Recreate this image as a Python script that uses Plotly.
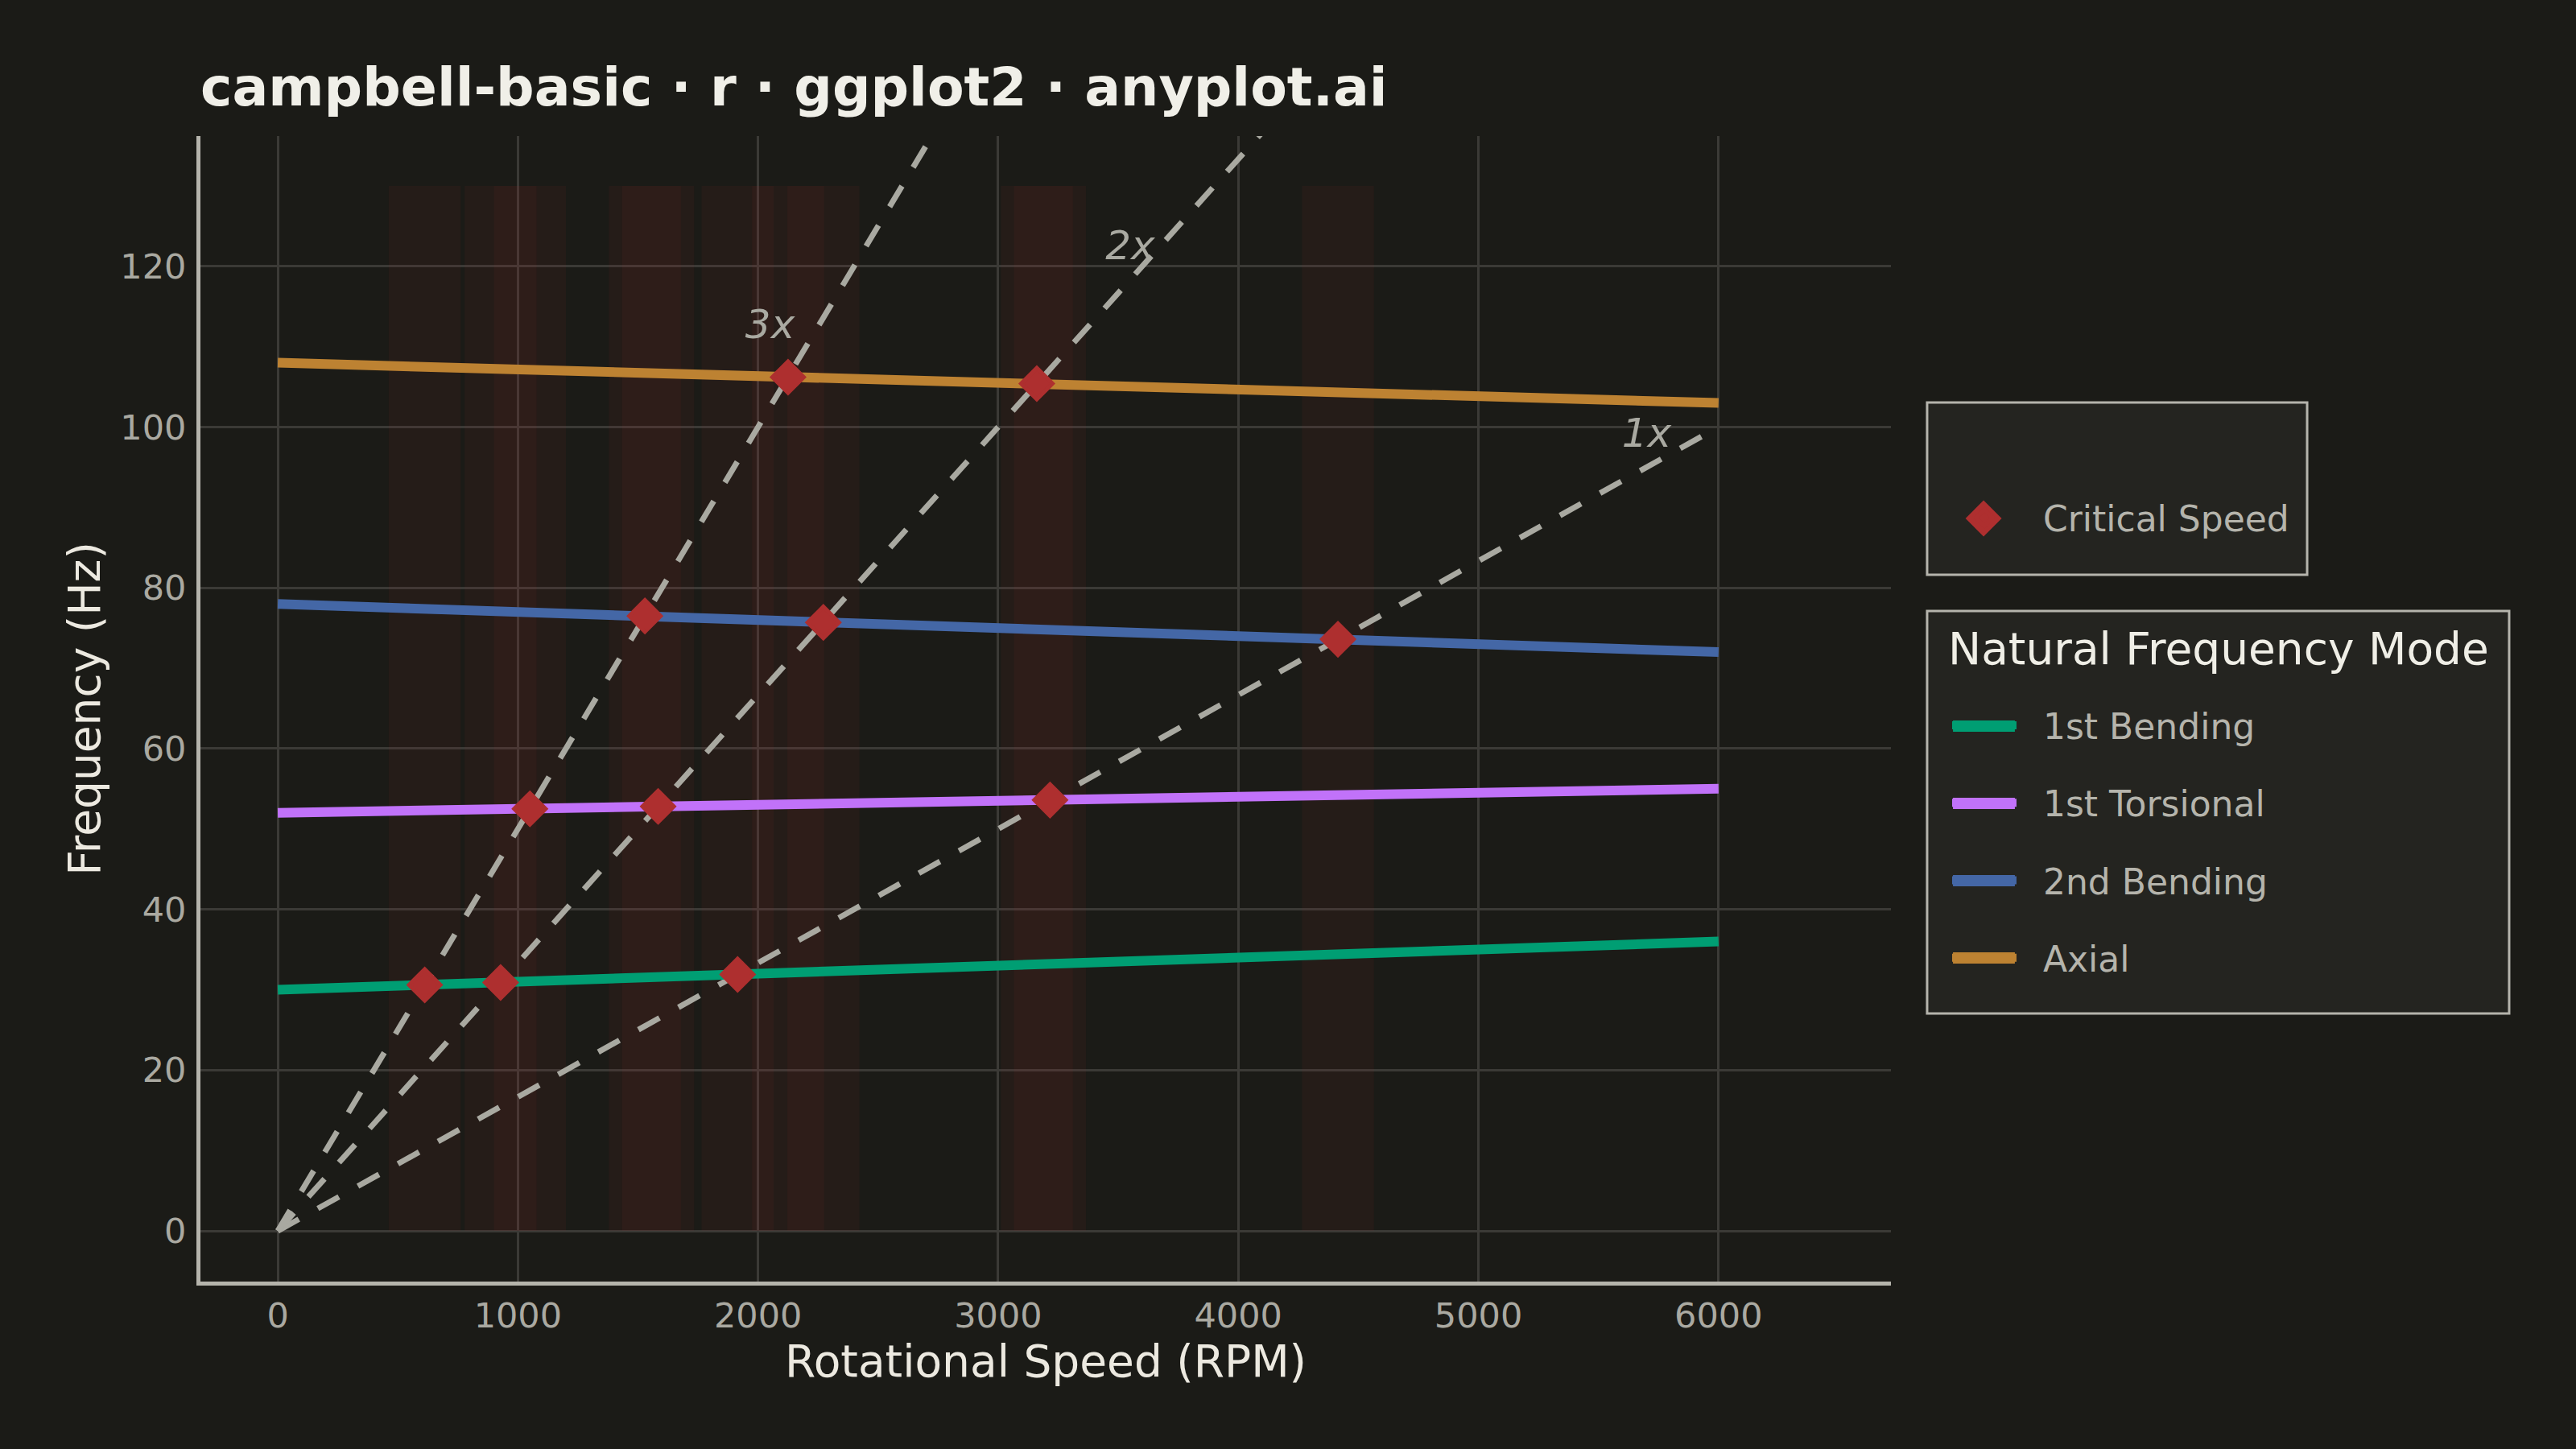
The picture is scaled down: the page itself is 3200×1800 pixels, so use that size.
import plotly.graph_objects as go

# natural frequency modes (Hz at 0 and 6000 RPM)
rpm_ends = [0, 6000]
modes = ['1st Bending', '1st Torsional', '2nd Bending', 'Axial']
freq_start = [30, 52, 78, 108]
freq_end = [36, 55, 72, 103]
mode_colors = ['#009E73', '#C172F9', '#4467A6', '#BD8232']

# engine order lines
orders = ['1x', '2x', '3x']
order_freq_end = [100, 200, 300]
label_rpm = [5700, 3550, 2050]
label_freq = [98.8, 122.1, 112.3]

# critical speeds (intersections)
crit_rpm = [612, 928, 1915, 1050, 1584, 3216, 1529, 2272, 4415, 2125, 3161]
crit_freq = [30.6, 30.9, 31.9, 52.5, 52.8, 53.6, 76.5, 75.7, 73.6, 106.2, 105.4]
band_half = 150
band_top = 130

bg = '#1B1B17'
box_bg = '#242420'
box_line = '#B5B4AC'
crit_color = '#AE2F2F'
font = 'DejaVu Sans'
pad = '\u00a0\u00a0'

fig = go.Figure()

for o, fe in zip(orders, order_freq_end):
    fig.add_trace(go.Scatter(x=rpm_ends, y=[0, fe], mode='lines', showlegend=False,
                             line=dict(color='#A9A9A1', width=7, dash='30px,27px'), hoverinfo='skip'))

for m, f0, f1, c in zip(modes, freq_start, freq_end, mode_colors):
    fig.add_trace(go.Scatter(x=rpm_ends, y=[f0, f1], mode='lines', name=pad + m, legend='legend2',
                             legendgroup=m, line=dict(color=c, width=12)))

fig.add_trace(go.Scatter(x=crit_rpm, y=crit_freq, mode='markers', name=pad + 'Critical Speed', legend='legend',
                         marker=dict(symbol='diamond', size=30, color=crit_color,
                                     line=dict(color=crit_color, width=5))))

fig.add_trace(go.Scatter(x=label_rpm, y=label_freq, mode='text', text=['<i>%s</i>' % o for o in orders],
                         textfont=dict(family=font, size=50, color='#A9A9A1'), showlegend=False, hoverinfo='skip'))

# resonance bands around each critical speed
for c in crit_rpm:
    fig.add_shape(type='rect', xref='x', yref='y', x0=c - band_half, x1=c + band_half, y0=0, y1=band_top,
                  fillcolor='rgba(176,48,48,0.07)', line=dict(width=0), layer='between')

# legend boxes (ggplot style: two separate guides)
fig.add_shape(type='rect', xref='paper', yref='paper', x0=1.0214, x1=1.2462, y0=0.6170, y1=0.7674,
              fillcolor=box_bg, line=dict(color=box_line, width=3), layer='below')
fig.add_shape(type='rect', xref='paper', yref='paper', x0=1.0214, x1=1.3657, y0=0.2340, y1=0.5854,
              fillcolor=box_bg, line=dict(color=box_line, width=3), layer='below')
# bigger legend keys (plotly caps legend marker size / line width)
kx, ky, dx, dy = 1.0548, 0.6662, 0.0107, 0.0158
fig.add_shape(type='path', xref='paper', yref='paper', fillcolor=crit_color, line=dict(width=0), layer='above',
              path=f'M {kx - dx},{ky} L {kx},{ky + dy} L {kx + dx},{ky} L {kx},{ky - dy} Z')
key_y = [0.4849, 0.4174, 0.3500, 0.2825]
for c, yk in zip(mode_colors, key_y):
    fig.add_shape(type='line', xref='paper', yref='paper', x0=1.0367, x1=1.0733, y0=yk, y1=yk,
                  line=dict(color=c, width=14), layer='above')
fig.add_annotation(text='Natural Frequency Mode', xref='paper', yref='paper', x=1.0329, y=0.5524,
                   xanchor='left', yanchor='middle', showarrow=False,
                   font=dict(family=font, size=55, color='#EFEEE6'))

axis = dict(showgrid=True, gridcolor='#3B3A36', gridwidth=3, zeroline=False, showline=True,
            linecolor=box_line, linewidth=5, ticks='', tickfont=dict(family=font, size=43, color='#AAA9A1'),
            title_font=dict(family=font, size=55, color='#ECE9E0'))

leg = dict(xanchor='left', yanchor='top', bgcolor='rgba(0,0,0,0)', borderwidth=0,
           font=dict(family=font, size=44, color=box_line), itemwidth=80)

fig.update_layout(
    width=3200, height=1800,
    paper_bgcolor=bg, plot_bgcolor=bg,
    margin=dict(l=249, r=851, t=169, b=208),
    title=dict(text='<b>campbell-basic · r · ggplot2 · anyplot.ai</b>', x=0, xref='paper', xanchor='left',
               y=0.94, yref='container', yanchor='middle', font=dict(family=font, size=66.5, color='#F0EFE8')),
    xaxis=dict(axis, range=[-322, 6718], tickvals=[0, 1000, 2000, 3000, 4000, 5000, 6000],
               ticklabelstandoff=0, title=dict(text='Rotational Speed (RPM)', standoff=12)),
    yaxis=dict(axis, range=[-6.3, 136.2], tickvals=[0, 20, 40, 60, 80, 100, 120],
               ticklabelstandoff=4, title=dict(text='Frequency (Hz)', standoff=9)),
    legend=dict(leg, x=1.0338, y=0.6915),
    legend2=dict(leg, x=1.0338, y=0.5102, tracegroupgap=36, traceorder='grouped'),
)

fig.write_html('out.html', config={'displayModeBar': False},
               post_script="document.body.style.margin='0';")
